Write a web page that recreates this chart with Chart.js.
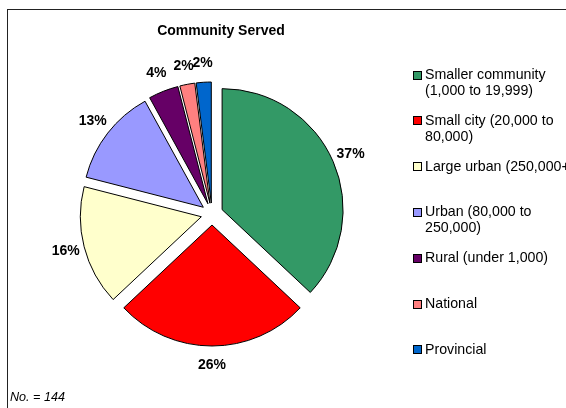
<!DOCTYPE html>
<html>
<head>
<meta charset="utf-8">
<script src="https://cdn.jsdelivr.net/npm/chart.js@4.4.0/dist/chart.umd.min.js"></script>
<style>
  html, body { margin: 0; padding: 0; background: #fff; }
  #wrap { position: relative; width: 566px; height: 408px; overflow: hidden; }
  canvas { display: block; }
</style>
</head>
<body>
<div id="wrap"><canvas id="c" width="566" height="408"></canvas></div>
<script>
// Community size categories (legend text, one entry per line of text)
const categories = [
  ['Smaller community', '(1,000 to 19,999)'],
  ['Small city (20,000 to', '80,000)'],
  ['Large urban (250,000+)'],
  ['Urban (80,000 to', '250,000)'],
  ['Rural (under 1,000)'],
  ['National'],
  ['Provincial']
];
// Share of respondents, percent
const shares = [37, 26, 16, 13, 4, 2, 2];
const colours = ['#339966', '#FF0000', '#FFFFCC', '#9999FF', '#660066', '#FF8080', '#0066CC'];
const chartTitle = 'Community Served';
const footNote = 'No. = 144';

const FONT = '"Liberation Sans", Arial, sans-serif';

// Pull every slice out from the centre along its own bisector
const explode = {
  id: 'explode',
  afterDatasetUpdate(chart, args, opts) {
    const meta = chart.getDatasetMeta(args.index);
    meta.data.forEach(arc => {
      const mid = (arc.startAngle + arc.endAngle) / 2;
      arc.x += Math.cos(mid) * opts.distance;
      arc.y += Math.sin(mid) * opts.distance;
    });
  }
};

// White page with the outer frame
const frame = {
  id: 'frame',
  beforeDraw(chart) {
    const ctx = chart.ctx;
    ctx.save();
    ctx.fillStyle = '#fff';
    ctx.fillRect(0, 0, chart.width, chart.height);
    ctx.strokeStyle = '#222';
    ctx.lineWidth = 1;
    ctx.strokeRect(7.5, 9.5, 700, 500);
    ctx.restore();
  }
};

// Percentage labels outside each slice
const sliceLabels = {
  id: 'sliceLabels',
  afterDatasetsDraw(chart, args, opts) {
    const ctx = chart.ctx;
    const meta = chart.getDatasetMeta(0);
    ctx.save();
    ctx.font = 'bold 14px ' + FONT;
    ctx.fillStyle = '#000';
    ctx.textAlign = 'center';
    ctx.textBaseline = 'middle';
    meta.data.forEach((arc, i) => {
      const mid = (arc.startAngle + arc.endAngle) / 2;
      const r = arc.outerRadius + opts.gap;
      ctx.fillText(shares[i] + '%', arc.x + Math.cos(mid) * r, arc.y + Math.sin(mid) * r);
    });
    ctx.restore();
  }
};

// Title, legend and footnote
const annotations = {
  id: 'annotations',
  afterDraw(chart) {
    const ctx = chart.ctx;
    const area = chart.chartArea;
    ctx.save();
    ctx.fillStyle = '#000';
    ctx.textBaseline = 'middle';

    ctx.font = 'bold 14px ' + FONT;
    ctx.textAlign = 'center';
    ctx.fillText(chartTitle, (area.left + area.right) / 2 + 9, 31);

    ctx.font = '14.2px ' + FONT;
    ctx.textAlign = 'left';
    const top = 75, step = 45.8, lineH = 16, boxX = 413, box = 9;
    categories.forEach((lines, i) => {
      const y = top + i * step;
      const by = Math.round(y - box / 2);
      ctx.fillStyle = colours[i];
      ctx.fillRect(boxX, by, box, box);
      ctx.strokeStyle = '#000';
      ctx.lineWidth = 1;
      ctx.strokeRect(boxX + 0.5, by + 0.5, box - 1, box - 1);
      ctx.fillStyle = '#000';
      lines.forEach((t, j) => ctx.fillText(t, boxX + 12, y + j * lineH));
    });

    ctx.font = 'italic 12.6px ' + FONT;
    ctx.fillText(footNote, 10, 397);
    ctx.restore();
  }
};

new Chart(document.getElementById('c'), {
  type: 'pie',
  data: {
    labels: categories.map(l => l.join(' ')),
    datasets: [{
      data: shares,
      backgroundColor: colours,
      borderColor: '#000',
      borderWidth: 1
    }]
  },
  options: {
    responsive: false,
    animation: false,
    radius: 121,
    layout: { padding: { left: 20, right: 162, top: 40, bottom: 20 } },
    plugins: {
      legend: { display: false },
      title: { display: false },
      tooltip: { enabled: false },
      explode: { distance: 11 },
      sliceLabels: { gap: 19 }
    }
  },
  plugins: [frame, explode, sliceLabels, annotations]
});
</script>
</body>
</html>
